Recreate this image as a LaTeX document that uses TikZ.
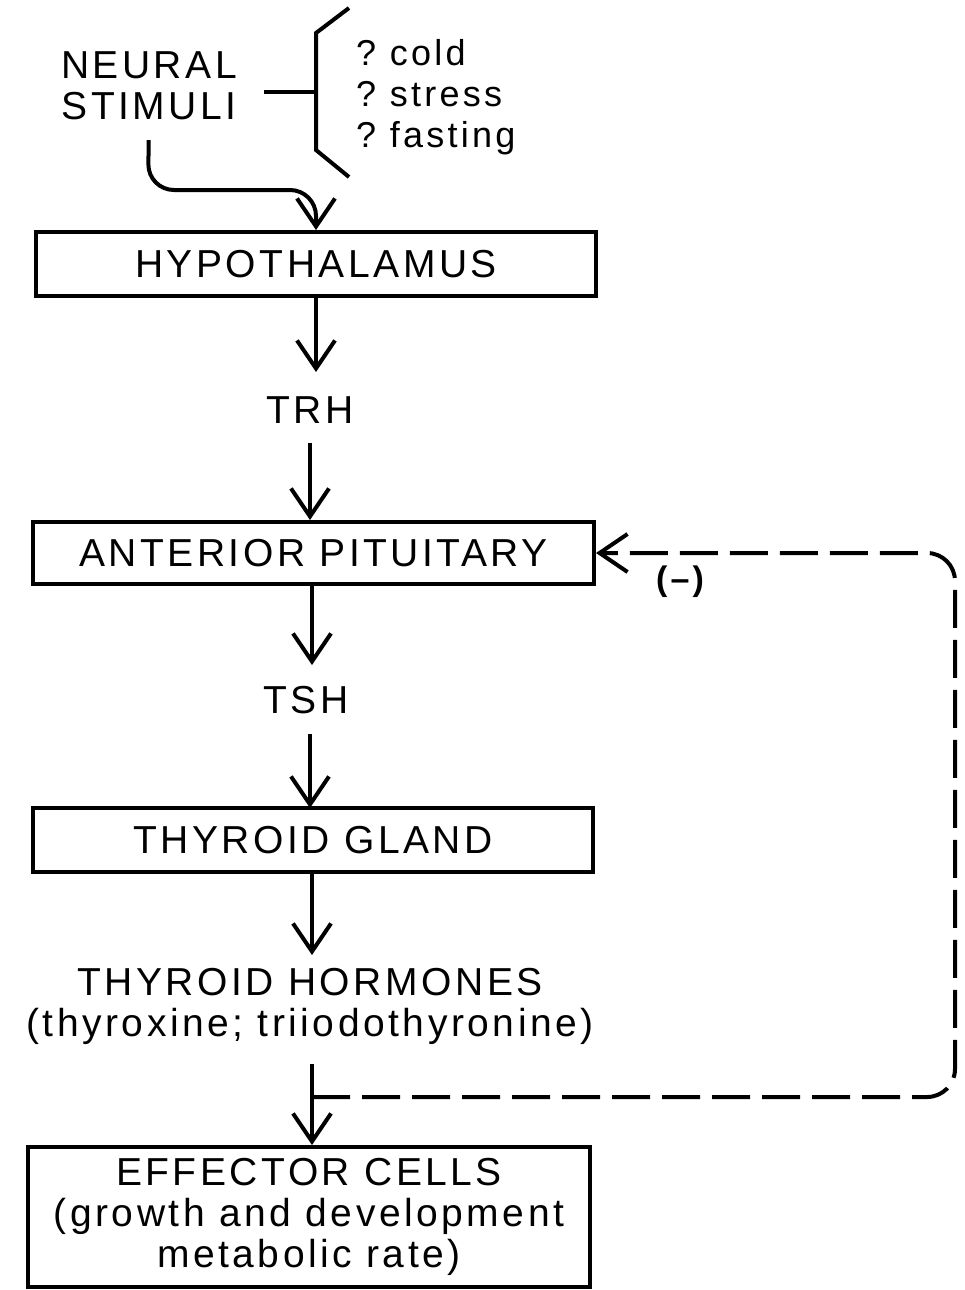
\documentclass[tikz,border=0pt]{standalone}
\usepackage{fontspec}
\setmainfont{Liberation Sans}[LetterSpace=9]
\usetikzlibrary{arrows.meta}
\begin{document}
\begin{tikzpicture}[x=0.5pt,y=-0.5pt, line width=2pt,
  boxnode/.style={draw, line width=2pt, minimum height=32pt, inner sep=0pt, font=\fontsize{19.5}{20.5}\selectfont, align=center},
  lbl/.style={font=\fontsize{19.5}{20.5}\selectfont, inner sep=0pt, align=center},
  small/.style={font=\fontsize{18}{20.5}\selectfont, inner sep=0pt, align=left},
  flow/.style={-{Straight Barb[length=14pt,width=19pt,line width=2pt]}},
  fbline/.style={dash pattern=on 19pt off 6pt, rounded corners=14pt}
]
\useasboundingbox (0,0) rectangle (964,1290);

% nodes
\node[lbl] (ns) at (149,86) {NEURAL\\STIMULI};
\node[small, anchor=west] (list) at (354,97) {?\hspace{7pt}cold\\?\hspace{7pt}stress\\?\hspace{7pt}fasting};
\node[boxnode, minimum width=280pt] (hyp) at (316,264) {HYPOTHALAMUS};
\node[lbl] (trh) at (310,410) {TRH};
\node[boxnode, minimum width=280.5pt, minimum height=31pt] (ap) at (313.5,553) {ANTERIOR PITUITARY};
\node[lbl] (tsh) at (306,700) {TSH};
\node[boxnode, minimum width=280pt] (tg) at (313,840) {THYROID GLAND};
\node[lbl] (th) at (310,1006) {THYROID HORMONES\\(thyroxine; triiodothyronine)};
\node[boxnode, minimum width=281pt, minimum height=70pt] (eff) at (309,1217)
  {EFFECTOR CELLS\\(growth and development\\metabolic rate)};
\node[font=\fontsize{17}{18}\bfseries, inner sep=0pt] (neg) at (680,582) {(--)};

% bracket
\coordinate (tick) at (264,92);
\coordinate (brk) at (316,92);
\draw (349,8) -- (316,33) -- (316,150) -- (349,177);
\draw (tick) -- (brk);

% main flow
\draw[flow, rounded corners=13pt, shorten <=9pt] (ns.south) -- (148,190) -- (316,190) -- (hyp.north);
\draw[flow] (hyp.south) -- (316,372);
\draw[flow, shorten <=9pt] (trh.south) -- (trh.south |- ap.north);
\draw[flow] (ap.south -| 312,0) -- (312,665);
\draw[flow, shorten <=9pt] (tsh.south -| 310,0) -- (310,808);
\draw[flow] (tg.south -| 312,0) -- (312,955);
\coordinate (fb) at (312,1097);
\draw[flow, shorten <=9pt] (th.south -| 312,0) -- (eff.north -| 312,0);

% feedback
\draw[fbline, flow] (fb) -- (955,1097) -- (955,553) -- (ap.east);
\end{tikzpicture}
\end{document}
